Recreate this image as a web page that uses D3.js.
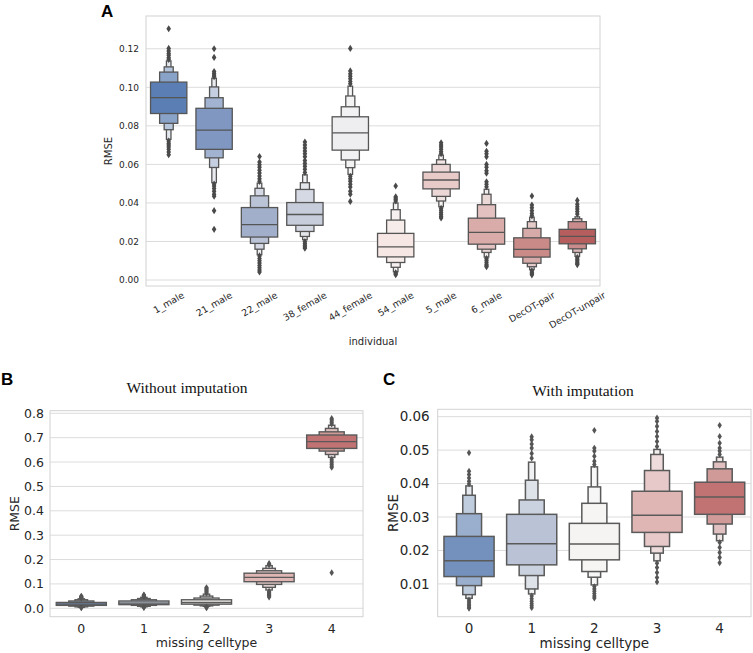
<!DOCTYPE html>
<html><head><meta charset="utf-8">
<script src="https://cdn.jsdelivr.net/npm/d3@7"></script>
<style>body{margin:0;background:#fff}svg{display:block}</style>
</head><body>
<svg id="chart" width="753" height="653"></svg>
<script>
// ---------------- Panel A data ----------------
const aCategories = ["1_male","21_male","22_male","38_female","44_female","54_male","5_male","6_male","DecOT-pair","DecOT-unpair"];
const aMedians = [0.0946,0.0778,0.0287,0.0340,0.0764,0.0172,0.0519,0.0247,0.0159,0.0226];
// letter-value boxes per category, innermost (IQR) first: [low, high]
const aBoxes = [
  [[0.0864,0.1027],[0.0813,0.1079],[0.0780,0.1106],[0.0730,0.1137]],
  [[0.0678,0.0891],[0.0634,0.0946],[0.0584,0.1002],[0.0505,0.1047]],
  [[0.0223,0.0376],[0.0190,0.0437],[0.0160,0.0476],[0.0131,0.0503]],
  [[0.0284,0.0402],[0.0252,0.0470],[0.0226,0.0505],[0.0209,0.0546]],
  [[0.0674,0.0847],[0.0623,0.0899],[0.0583,0.0955],[0.0548,0.1006]],
  [[0.0120,0.0242],[0.0091,0.0311],[0.0066,0.0365],[0.0043,0.0400]],
  [[0.0473,0.0560],[0.0434,0.0600],[0.0410,0.0624],[0.0380,0.0648]],
  [[0.0186,0.0321],[0.0160,0.0391],[0.0143,0.0445],[0.0119,0.0471]],
  [[0.0119,0.0219],[0.0087,0.0268],[0.0069,0.0303],[0.0054,0.0326]],
  [[0.0188,0.0263],[0.0162,0.0303],[0.0143,0.0318],[0.0123,0.0328]]
];
const aOutliers = [
  [0.1304,0.1202,0.1188,0.1176,0.1166,0.1154,0.1145,0.0721,0.0710,0.0700,0.0690,0.0678,0.0664,0.0650],
  [0.1200,0.1155,0.1082,0.1072,0.1063,0.1055,0.0498,0.0488,0.0475,0.0460,0.0445,0.0435,0.0360,0.0263],
  [0.0641,0.0612,0.0598,0.0585,0.0570,0.0555,0.0540,0.0525,0.0512,0.0125,0.0112,0.0100,0.0088,0.0076,0.0064,0.0052,0.0042],
  [0.0716,0.0700,0.0685,0.0670,0.0655,0.0640,0.0620,0.0605,0.0590,0.0575,0.0558,0.0200,0.0190,0.0180,0.0172,0.0165],
  [0.1202,0.1085,0.1070,0.1058,0.1045,0.1030,0.1018,0.0538,0.0525,0.0512,0.0497,0.0483,0.0460,0.0445,0.0408],
  [0.0488,0.0432,0.0425,0.0418,0.0410,0.0038,0.0033,0.0028],
  [0.0712,0.0700,0.0690,0.0678,0.0665,0.0655,0.0372,0.0362,0.0350,0.0340,0.0330,0.0322],
  [0.0709,0.0668,0.0655,0.0640,0.0600,0.0585,0.0567,0.0554,0.0510,0.0497,0.0484,0.0112,0.0102,0.0092,0.0082,0.0074,0.0069],
  [0.0436,0.0389,0.0375,0.0360,0.0345,0.0333,0.0048,0.0040,0.0033,0.0027],
  [0.0413,0.0393,0.0380,0.0368,0.0355,0.0342,0.0116,0.0108,0.0100,0.0092,0.0085,0.0080]
];
const aYTicks = [0.00,0.02,0.04,0.06,0.08,0.10,0.12];

// ---------------- Panel B data ----------------
const bCategories = ["0","1","2","3","4"];
const bMedians = [0.017,0.021,0.024,0.127,0.684];
const bBoxes = [
  [[0.012,0.024],[0.009,0.030],[0.006,0.035],[0.004,0.039]],
  [[0.015,0.030],[0.012,0.035],[0.008,0.040],[0.006,0.045]],
  [[0.017,0.035],[0.013,0.042],[0.010,0.050],[0.008,0.058]],
  [[0.109,0.144],[0.098,0.154],[0.086,0.164],[0.075,0.175]],
  [[0.656,0.711],[0.645,0.724],[0.631,0.738],[0.619,0.751]]
];
const bOutliers = [
  [0.042,0.044,0.046,0.048,0.050,0.003,0.002],
  [0.048,0.050,0.052,0.054,0.055,0.004,0.003],
  [0.062,0.066,0.070,0.074,0.078,0.082,0.085,0.006,0.004,0.002],
  [0.178,0.181,0.184,0.070,0.066,0.062,0.058,0.054,0.050,0.046],
  [0.756,0.762,0.768,0.774,0.779,0.612,0.604,0.597,0.590,0.583,0.578,0.146]
];
const bYTicks = [0.0,0.1,0.2,0.3,0.4,0.5,0.6,0.7,0.8];

// ---------------- Panel C data ----------------
const cCategories = ["0","1","2","3","4"];
const cMedians = [0.0169,0.0220,0.0219,0.0305,0.0360];
const cBoxes = [
  [[0.0122,0.0242],[0.0095,0.0310],[0.0068,0.0365],[0.0057,0.0393]],
  [[0.0157,0.0308],[0.0125,0.0351],[0.0085,0.0410],[0.0070,0.0464]],
  [[0.0172,0.0281],[0.0137,0.0341],[0.0120,0.0390],[0.0097,0.0450]],
  [[0.0254,0.0377],[0.0212,0.0439],[0.0192,0.0487],[0.0169,0.0502]],
  [[0.0308,0.0404],[0.0279,0.0444],[0.0249,0.0465],[0.0229,0.0479]]
];
const cOutliers = [
  [0.0492,0.0437,0.0427,0.0417,0.0407,0.0399,0.0052,0.0046,0.0040,0.0035,0.0030,0.0027],
  [0.0540,0.0531,0.0518,0.0506,0.0490,0.0476,0.0064,0.0056,0.0048,0.0041,0.0035,0.0029],
  [0.0559,0.0506,0.0497,0.0482,0.0467,0.0457,0.0092,0.0085,0.0078,0.0071,0.0064,0.0058],
  [0.0596,0.0586,0.0571,0.0556,0.0541,0.0526,0.0511,0.0162,0.0149,0.0134,0.0119,0.0106],
  [0.0574,0.0541,0.0521,0.0506,0.0497,0.0487,0.0224,0.0209,0.0194,0.0179,0.0163]
];
const cYTicks = [0.01,0.02,0.03,0.04,0.05,0.06];

// ---------------- palettes ----------------
const aPalette = ["#5b7fb5","#7f97c1","#a2afca","#c7cdda","#eeeef1","#f6e7e5","#e8cac8","#d9aba9","#c98a88","#b65e5e"];
const cPalette = ["#7391bc","#b9c3d5","#f6f4f3","#dfb6b4","#c07372"];

const FONT = "'DejaVu Sans', sans-serif";
const TEXT = "#262626";
const svg = d3.select("#chart");

function panel(o) {
  const g = svg.append("g");
  const x = d3.scaleBand().domain(o.categories).range([o.left, o.right]).padding(0);
  const y = d3.scaleLinear().domain(o.yDomain).range([o.bottom, o.top]);

  g.append("g").selectAll("line").data(o.yTicks).join("line")
    .attr("x1", o.left).attr("x2", o.right)
    .attr("y1", d => y(d)).attr("y2", d => y(d))
    .attr("stroke", "#dcdcdc").attr("stroke-width", 1);
  g.append("rect").attr("x", o.left).attr("y", o.top)
    .attr("width", o.right - o.left).attr("height", o.bottom - o.top)
    .attr("fill", "none").attr("stroke", "#d2d2d2").attr("stroke-width", 1);

  const ya = g.append("g").attr("transform", `translate(${o.left},0)`)
    .call(d3.axisLeft(y).tickValues(o.yTicks).tickFormat(d3.format(o.fmt)).tickSize(0).tickPadding(o.yPad));
  ya.select(".domain").remove();
  ya.selectAll("text").attr("font-family", FONT).attr("font-size", o.tickFont).attr("fill", TEXT);

  const xa = g.append("g").attr("transform", `translate(0,${o.bottom})`)
    .call(d3.axisBottom(x).tickSize(0).tickPadding(o.xPad));
  xa.select(".domain").remove();
  xa.selectAll("text").attr("font-family", FONT).attr("font-size", o.xTickFont).attr("fill", TEXT);
  if (o.rotate) {
    xa.selectAll("text").each(function() {
      const t = d3.select(this);
      const len = this.getComputedTextLength();
      const h = o.xTickFont * 1.05;
      const half = (len * Math.sin(Math.PI / 6) + h * Math.cos(Math.PI / 6)) / 2;
      const cy = o.xPad + half;
      t.attr("x", 0).attr("y", cy).attr("dy", "0.35em").attr("text-anchor", "middle")
        .attr("transform", `rotate(-30,0,${cy})`);
    });
  }

  const bw = x.bandwidth() * 0.8;
  const dia = `M0,${-o.mk * 1.55}L${o.mk},0L0,${o.mk * 1.55}L${-o.mk},0Z`;
  o.categories.forEach((c, i) => {
    const cx = x(c) + x.bandwidth() / 2;
    const lv = o.boxes[i];
    const k = lv.length;
    const base = o.palette[i];
    const light = d3.interpolateRgb(base, "#f7f7f7")(0.88);
    for (let j = k - 1; j >= 0; j--) {
      const w = bw * Math.pow(0.5, j);
      const fill = d3.interpolateRgb(base, light)(j / (k - 1));
      g.append("rect")
        .attr("x", cx - w / 2).attr("y", y(lv[j][1]))
        .attr("width", w).attr("height", y(lv[j][0]) - y(lv[j][1]))
        .attr("fill", fill).attr("stroke", o.gray).attr("stroke-width", o.lw);
    }
    g.append("line").attr("x1", cx - bw / 2).attr("x2", cx + bw / 2)
      .attr("y1", y(o.medians[i])).attr("y2", y(o.medians[i]))
      .attr("stroke", o.gray).attr("stroke-width", o.lw);
    g.append("g").selectAll("path").data(o.outliers[i]).join("path")
      .attr("d", dia).attr("transform", d => `translate(${cx},${y(d)})`)
      .attr("fill", o.mcol);
  });

  g.append("text").attr("x", o.yLabelX).attr("y", (o.top + o.bottom) / 2)
    .attr("transform", `rotate(-90,${o.yLabelX},${(o.top + o.bottom) / 2})`)
    .attr("text-anchor", "middle").attr("font-family", FONT).attr("font-size", o.labelFont)
    .attr("fill", TEXT).text("RMSE");
  g.append("text").attr("x", (o.left + o.right) / 2).attr("y", o.xLabelY)
    .attr("text-anchor", "middle").attr("font-family", FONT).attr("font-size", o.labelFont)
    .attr("fill", TEXT).text(o.xLabel);
}

panel({categories: aCategories, medians: aMedians, boxes: aBoxes, outliers: aOutliers,
  palette: aPalette, yTicks: aYTicks, fmt: ".2f", yDomain: [-0.0031, 0.137],
  left: 146, right: 600, top: 16, bottom: 286, tickFont: 9, xTickFont: 9.3, labelFont: 10,
  yPad: 7, xPad: 4, rotate: true, lw: 1.3, mk: 2.3, gray: "#555555", mcol: "#4a4a4a",
  yLabelX: 112, xLabelY: 345, xLabel: "individual"});

panel({categories: bCategories, medians: bMedians, boxes: bBoxes, outliers: bOutliers,
  palette: cPalette, yTicks: bYTicks, fmt: ".1f", yDomain: [-0.0345, 0.8107],
  left: 50, right: 363, top: 410.7, bottom: 616.7, tickFont: 12.5, xTickFont: 12.5, labelFont: 12.5,
  yPad: 6, xPad: 7, rotate: false, lw: 1.4, mk: 2.2, gray: "#5a5a5a", mcol: "#555555",
  yLabelX: 19, xLabelY: 647, xLabel: "missing celltype"});

panel({categories: cCategories, medians: cMedians, boxes: cBoxes, outliers: cOutliers,
  palette: cPalette, yTicks: cYTicks, fmt: ".2f", yDomain: [0.0002, 0.0622],
  left: 437.7, right: 751, top: 409.3, bottom: 616.7, tickFont: 13.5, xTickFont: 13.5, labelFont: 13.5,
  yPad: 8, xPad: 7, rotate: false, lw: 1.5, mk: 2.2, gray: "#5a5a5a", mcol: "#555555",
  yLabelX: 398, xLabelY: 648, xLabel: "missing celltype"});

// titles and panel letters
svg.append("text").attr("x", 187).attr("y", 393).attr("text-anchor", "middle")
  .attr("font-family", "'Liberation Serif', 'Times New Roman', serif").attr("font-size", 15.5)
  .attr("fill", "#111").text("Without imputation");
svg.append("text").attr("x", 583).attr("y", 396).attr("text-anchor", "middle")
  .attr("font-family", "'Liberation Serif', 'Times New Roman', serif").attr("font-size", 15.5)
  .attr("fill", "#111").text("With imputation");
const letter = (t, x, y) => svg.append("text").attr("x", x).attr("y", y)
  .attr("font-family", "'Liberation Sans', Arial, sans-serif").attr("font-weight", "bold")
  .attr("font-size", 17).attr("fill", "#000").text(t);
letter("A", 101, 17);
letter("B", 1, 385);
letter("C", 383, 385);
</script>
</body></html>
